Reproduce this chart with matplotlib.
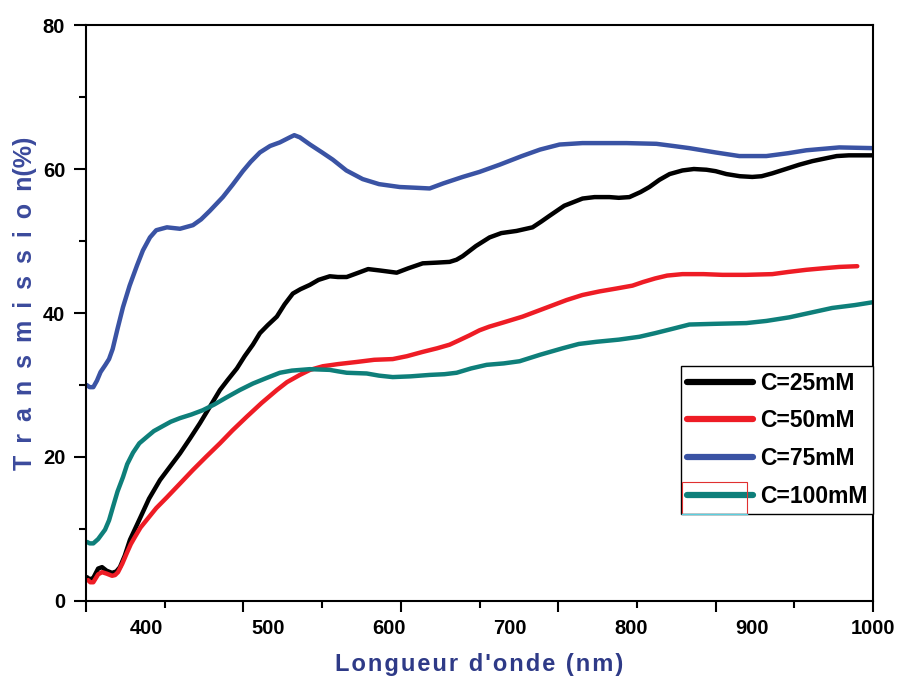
import numpy as np
import matplotlib
matplotlib.use("Agg")
import matplotlib.pyplot as plt
from matplotlib.patches import Rectangle

plt.rcParams['font.family'] = ['Liberation Sans', 'DejaVu Sans']
plt.rcParams['font.weight'] = 'bold'

# --- data ---
wl_25 = [350.8, 353, 356, 360, 363.2, 367, 371.5, 375, 378, 382, 386.3, 394.6, 402, 411.1,
         420, 427.6, 436, 444.1, 452, 460.6, 467, 474.6, 481, 487.8, 493.6, 500, 507.6, 514,
         520.8, 527, 534.8, 542, 551.3, 558, 565.3, 575, 583, 593, 606.6, 616, 628.1, 640,
         650.3, 656, 661.1, 672, 683.3, 693, 705.6, 718.8, 726, 732.8, 745, 760.1, 770,
         782.3, 790, 798.8, 808, 815.3, 823.6, 832, 842.6, 852, 862.4, 870, 878.9, 890,
         900.3, 908, 916.8, 928, 939.1, 950, 961.4, 970, 980, 1000]
t_25 = [3.3, 3.0, 3.2, 4.5, 4.7, 4.2, 3.9, 4.1, 4.7, 6.3, 8.5, 11.5, 14.2, 16.8,
        18.8, 20.5, 22.6, 24.7, 26.9, 29.3, 30.7, 32.3, 34.0, 35.6, 37.2, 38.3, 39.5, 41.2,
        42.7, 43.3, 43.9, 44.6, 45.1, 45.0, 45.0, 45.6, 46.1, 45.9, 45.6, 46.2, 46.9, 47.0,
        47.1, 47.4, 47.9, 49.3, 50.5, 51.1, 51.4, 51.9, 52.7, 53.5, 54.9, 55.9, 56.1,
        56.1, 56.0, 56.1, 56.8, 57.5, 58.5, 59.3, 59.8, 60.0, 59.9, 59.7, 59.3, 59.0,
        58.9, 59.0, 59.4, 60.0, 60.6, 61.1, 61.5, 61.8, 61.9, 61.9]

wl_50 = [351.7, 353.5, 356, 360, 363.2, 367, 371.5, 374, 376.4, 380, 383.8, 387, 390.4, 395,
         400.3, 408, 416.8, 427, 438.3, 449, 460.6, 471, 482.8, 495, 507.6, 516, 526.6, 535,
         545.5, 558, 573.6, 588, 603.3, 615, 628.1, 640, 650.3, 658, 666.8, 675, 683, 695,
         710.6, 728, 746.9, 760, 774.1, 788, 801.3, 810, 820, 830, 842.6, 860, 875.6, 895,
         916.8, 930, 944.9, 958, 972.1, 987]
t_50 = [2.9, 2.6, 2.6, 3.7, 4.0, 3.8, 3.5, 3.6, 4.0, 5.2, 6.7, 7.9, 8.9, 10.2,
        11.3, 12.9, 14.4, 16.2, 18.2, 20.0, 21.9, 23.7, 25.6, 27.5, 29.3, 30.4, 31.4, 32.1,
        32.6, 32.9, 33.2, 33.5, 33.6, 34.0, 34.6, 35.1, 35.6, 36.2, 36.9, 37.6, 38.1, 38.7,
        39.5, 40.6, 41.8, 42.5, 43.0, 43.4, 43.8, 44.3, 44.8, 45.2, 45.4, 45.4, 45.3, 45.3,
        45.4, 45.7, 46.0, 46.2, 46.4, 46.5]

wl_75 = [350.5, 353, 356, 359, 362, 366, 369, 372, 376, 380.5, 386, 392.1, 397, 402.8, 408,
         416.8, 427.6, 438.3, 445, 452.3, 463, 471, 479.5, 486, 493.6, 502, 510.1, 518.3, 522,
         526.6, 535, 545, 553.8, 565, 578.5, 592, 609.1, 622, 633.8, 645, 661.1, 675, 691.6,
         710, 725, 741.1, 760, 796.4, 821.1, 835, 848.3, 870, 889.6, 911.9, 930, 944.9,
         972.1, 1000]
t_75 = [30.0, 29.7, 29.7, 30.6, 31.8, 32.8, 33.6, 35.0, 37.8, 40.8, 43.8, 46.6, 48.7, 50.5, 51.5,
        51.9, 51.7, 52.2, 53.0, 54.2, 56.1, 57.8, 59.7, 61.0, 62.3, 63.2, 63.7, 64.4, 64.7,
        64.4, 63.4, 62.3, 61.3, 59.8, 58.6, 57.9, 57.5, 57.4, 57.3, 58.0, 58.9, 59.6, 60.6,
        61.8, 62.7, 63.4, 63.6, 63.6, 63.5, 63.2, 62.9, 62.3, 61.8, 61.8, 62.2, 62.6,
        63.0, 62.9]

wl_100 = [350.8, 353, 356, 360, 365.7, 369, 372.3, 376, 380.5, 384, 388.8, 394, 400.3, 406,
          413.5, 420, 427.6, 437, 446.5, 456, 466.3, 477, 487.8, 498, 510.1, 520, 534.8, 551.3,
          558, 565.3, 581.8, 592, 603.3, 618, 633.8, 646, 656.1, 668, 680.9, 695, 708.1, 725,
          743.6, 757, 771.6, 790, 807.1, 820, 834.3, 848.3, 870, 895.4, 912, 930.9, 950,
          966.3, 985, 1000]
t_100 = [8.2, 8.0, 8.0, 8.6, 9.9, 11.2, 13.1, 15.2, 17.2, 19.0, 20.6, 21.9, 22.8, 23.6,
         24.3, 24.9, 25.4, 25.9, 26.5, 27.3, 28.3, 29.3, 30.2, 30.9, 31.7, 32.0, 32.2, 32.1,
         31.9, 31.7, 31.6, 31.3, 31.1, 31.2, 31.4, 31.5, 31.7, 32.3, 32.8, 33.0, 33.3, 34.2,
         35.1, 35.7, 36.0, 36.3, 36.7, 37.2, 37.8, 38.4, 38.5, 38.6, 38.9, 39.4, 40.1,
         40.7, 41.1, 41.5]

labels = ['C=25mM', 'C=50mM', 'C=75mM', 'C=100mM']
colors = ['#000000', '#ee1c25', '#3a53a4', '#0e7f7a']
x_ticklabels = [400, 500, 600, 700, 800, 900, 1000]
y_ticklabels = [0, 20, 40, 60, 80]

fig = plt.figure(figsize=(8.99, 6.82), dpi=100)
ax = fig.add_axes([0.0957, 0.1188, 0.8754, 0.8445])

for wl, t, lab, c in zip([wl_25, wl_50, wl_75, wl_100], [t_25, t_50, t_75, t_100], labels, colors):
    ax.plot(wl, t, color=c, lw=3.2, label=lab, solid_capstyle='round', solid_joinstyle='round')

ax.set_xlim(350, 1000)
ax.set_ylim(0, 80)

for s in ax.spines.values():
    s.set_linewidth(1.5)

# tick marks (long / short alternate), labels drawn by a secondary axis
marks = np.linspace(350, 1000, 11)
ax.set_xticks(marks[::2])
ax.set_xticks(marks[1::2], minor=True)
ax.tick_params(axis='x', which='major', length=8, width=1.5, labelbottom=False)
ax.tick_params(axis='x', which='minor', length=5, width=1.5)

sec = ax.secondary_xaxis('bottom')
sec.set_xticks(x_ticklabels)
sec.tick_params(length=0, pad=13, labelsize=14.5)
sec.spines['bottom'].set_visible(False)
for lbl in sec.get_xticklabels():
    lbl.set_fontweight('bold')

ax.set_yticks(y_ticklabels)
ax.set_yticks([10, 30, 50, 70], minor=True)
ax.tick_params(axis='y', which='major', length=9, width=1.5, pad=6, labelsize=14.5)
ax.tick_params(axis='y', which='minor', length=5, width=1.5)

xlab = "\u200a".join("Longueur d'onde (nm)")
ax.set_xlabel(xlab, fontsize=17, fontweight='bold', color='#2e3a87', va='center')
ax.xaxis.set_label_coords(0.5, -0.11)
ylab = " \u2009".join("Transmission") + "(%)"
ax.set_ylabel(ylab, fontsize=18, fontweight='bold', color='#3b4a9c', va='center')
ax.yaxis.set_label_coords(-0.078, 0.517)

leg = ax.legend(loc='lower right', bbox_to_anchor=(1.0, 0.151), borderaxespad=0,
                frameon=True, fancybox=False, edgecolor='black', framealpha=1,
                prop={'weight': 'bold', 'size': 16.5}, handlelength=2.9,
                handletextpad=0.3, labelspacing=0.65, borderpad=0.25)
leg.get_frame().set_linewidth(1.0)
for h in leg.get_lines():
    h.set_linewidth(4.5)

# small red box / cyan line artefact around the last legend handle
ax.add_patch(Rectangle((842.6, 12.1), 53.6, 4.4, fill=False, edgecolor='#e03030', lw=0.8, zorder=6))
ax.plot([842.6, 896.2], [12.1, 12.1], color='#5ad0e0', lw=1.0, zorder=6)

fig.savefig('out.png', dpi=100)
